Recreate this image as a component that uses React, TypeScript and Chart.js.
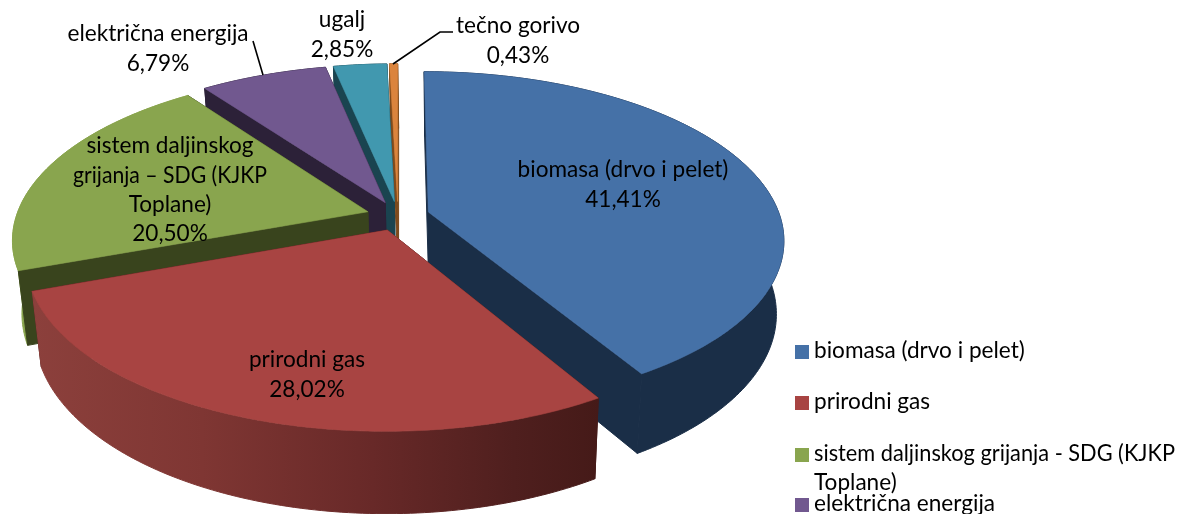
import React, { useEffect, useRef } from "react";
import { Chart, registerables } from "chart.js";

Chart.register(...registerables);

const categories = [
  "biomasa (drvo i pelet)",
  "prirodni gas",
  "sistem daljinskog grijanja - SDG (KJKP Toplane)",
  "električna energija",
  "ugalj",
  "tečno gorivo",
];
const shares = [41.41, 28.02, 20.5, 6.79, 2.85, 0.43];
const topColors = ["#4571a7", "#a84442", "#89a54e", "#71588f", "#4198af", "#db843d"];
const wallColors = ["#1a2e47", "#451a18", "#39441d", "#2c2138", "#1a4450", "#7d4a1c"];
const paintOrder = [5, 4, 3, 2, 0, 1];

const sliceLabelLines = [
  ["biomasa (drvo i pelet)"],
  ["prirodni gas"],
  ["sistem daljinskog", "grijanja – SDG (KJKP", "Toplane)"],
  ["električna energija"],
  ["ugalj"],
  ["tečno gorivo"],
];
const sliceLabelCenters = [
  [623, 170],
  [307, 360],
  [170, 146],
  [158, 34],
  [342, 20],
  [518, 26],
];
const legendLines = [
  ["biomasa (drvo i pelet)"],
  ["prirodni gas"],
  ["sistem daljinskog grijanja - SDG (KJKP", "Toplane)"],
  ["električna energija"],
  ["ugalj"],
  ["tečno gorivo"],
];
const legendRows = [352, 403, 455, 505, 556, 607];

const FONT = "22.6px Lato, Carlito, sans-serif";
const CAPS_SLICE_LINE_MAX = 194;
const LEGEND_LINE_MAX = 361;
const CX = 398;
const CY = 216;
const RX = 351.5;
const RY = 164;
const PERSP = 0.16;
const EXPLODE = 0.09;
const BOTTOM_SCALE = 0.978;
const BOTTOM_SHIFT = 1;
const DEPTH = 72;

type P = [number, number];

function project(mid: number, th: number, r: number, bottom: boolean): P {
  const u = EXPLODE * Math.sin(mid) + r * Math.sin(th);
  const v = -EXPLODE * Math.cos(mid) - r * Math.cos(th);
  const w = 1 / (1 - PERSP * v);
  const sx = RX * u * w;
  const sy = RY * v * w;
  if (!bottom) return [CX + sx, CY + sy];
  return [CX + BOTTOM_SHIFT + BOTTOM_SCALE * sx, CY + BOTTOM_SCALE * sy + DEPTH * w];
}

function fillPoly(ctx: CanvasRenderingContext2D, pts: P[], fill: string | CanvasGradient, edge = 0.6) {
  ctx.beginPath();
  pts.forEach((p, i) => (i ? ctx.lineTo(p[0], p[1]) : ctx.moveTo(p[0], p[1])));
  ctx.closePath();
  ctx.fillStyle = fill;
  ctx.strokeStyle = fill;
  ctx.lineWidth = edge;
  ctx.lineJoin = "round";
  ctx.fill();
  ctx.stroke();
}

const pie3d = {
  id: "pie3d",
  beforeDatasetsDraw(chart: any) {
    const ctx: CanvasRenderingContext2D = chart.ctx;
    const arcs = chart.getDatasetMeta(0).data;
    ctx.save();
    paintOrder.forEach((i) => {
      const a = arcs[i];
      const t0 = a.startAngle + Math.PI / 2;
      const t1 = a.endAngle + Math.PI / 2;
      const mid = (t0 + t1) / 2;
      const n = Math.max(4, Math.ceil((t1 - t0) * 60));
      const topArc: P[] = [];
      const botArc: P[] = [];
      for (let k = 0; k <= n; k++) {
        const th = t0 + ((t1 - t0) * k) / n;
        topArc.push(project(mid, th, 1, false));
        botArc.push(project(mid, th, 1, true));
      }
      const apexT = project(mid, 0, 0, false);
      const apexB = project(mid, 0, 0, true);
      const wall = wallColors[i];
      const startWall: P[] = [apexT, topArc[0], botArc[0], apexB];
      const endWall: P[] = [apexT, topArc[n], botArc[n], apexB];
      const startFront = -Math.sin(t0) > 0;
      const endFront = Math.sin(t1) > 0;
      if (!startFront) fillPoly(ctx, startWall, wall, 1);
      if (!endFront) fillPoly(ctx, endWall, wall, 1);
      let arcFill: string | CanvasGradient = wall;
      if (i === 1) {
        const g = ctx.createLinearGradient(32, 0, 599, 0);
        g.addColorStop(0, "#8c403c");
        g.addColorStop(0.3, "#7f3633");
        g.addColorStop(0.6, "#682928");
        g.addColorStop(0.85, "#4f1f1e");
        g.addColorStop(1, "#451a18");
        arcFill = g;
      } else if (i === 2) {
        arcFill = topColors[2];
      }
      fillPoly(ctx, [...topArc, ...botArc.slice().reverse()], arcFill, 1);
      if (startFront) fillPoly(ctx, startWall, wall, 1);
      if (endFront) fillPoly(ctx, endWall, wall, 1);
      fillPoly(ctx, [apexT, ...topArc], topColors[i]);
    });
    ctx.restore();
    return false;
  },
  afterDraw(chart: any) {
    const ctx: CanvasRenderingContext2D = chart.ctx;
    ctx.save();
    // leader lines
    ctx.strokeStyle = "#000";
    ctx.lineWidth = 1.6;
    ctx.beginPath();
    ctx.moveTo(253, 41);
    ctx.lineTo(263, 75);
    ctx.moveTo(393, 64);
    ctx.lineTo(440, 32);
    ctx.lineTo(453, 32);
    ctx.stroke();
    // slice labels
    ctx.font = FONT;
    ctx.fillStyle = "#000";
    ctx.textAlign = "center";
    ctx.textBaseline = "middle";
    sliceLabelLines.forEach((lines, i) => {
      const [x, y] = sliceLabelCenters[i];
      const all = [...lines, shares[i].toFixed(2).replace(".", ",") + "%"];
      all.forEach((t, j) => {
        if (t.includes("KJKP")) ctx.fillText(t, x, y + j * 29.3, CAPS_SLICE_LINE_MAX);
        else ctx.fillText(t, x, y + j * 29.3);
      });
    });
    // legend
    ctx.textAlign = "left";
    categories.forEach((_, i) => {
      const y = legendRows[i];
      ctx.fillStyle = topColors[i];
      ctx.fillRect(795, y - 7, 14, 14);
      ctx.fillStyle = "#000";
      legendLines[i].forEach((t, j) => ctx.fillText(t, 814, y - 1 + j * 29, LEGEND_LINE_MAX));
    });
    ctx.restore();
  },
};

export default function App() {
  const ref = useRef<HTMLCanvasElement | null>(null);
  useEffect(() => {
    document.body.style.margin = "0";
    const chart = new Chart(ref.current as HTMLCanvasElement, {
      type: "pie",
      data: {
        labels: categories,
        datasets: [{ data: shares, backgroundColor: topColors, borderWidth: 0 }],
      },
      options: {
        responsive: false,
        animation: false,
        devicePixelRatio: 1,
        layout: { padding: 0 },
        plugins: { legend: { display: false }, tooltip: { enabled: false } },
      },
      plugins: [pie3d],
    } as any);
    return () => chart.destroy();
  }, []);
  return <canvas ref={ref} width={1177} height={514} style={{ display: "block" }} />;
}
